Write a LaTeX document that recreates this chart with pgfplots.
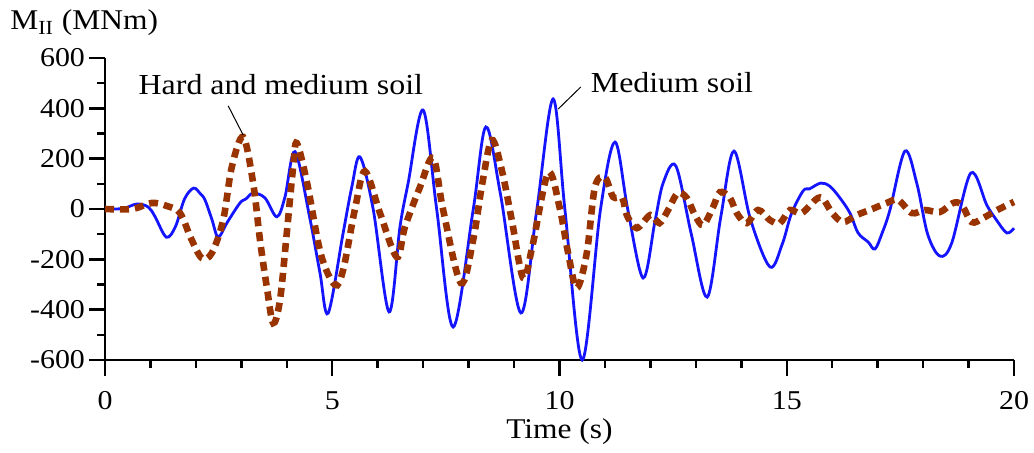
\documentclass[border=0pt]{standalone}
\usepackage{fontspec}
\setmainfont{Liberation Serif}[FakeStretch=1.1]
\usepackage{pgfplots}
\pgfplotsset{compat=1.18}
\definecolor{mblue}{RGB}{20,20,255}
\definecolor{hbrown}{RGB}{153,51,0}

\pgfplotstableread{
t v
0 0
0.4 2
0.7 20
0.95 8
1.1 -30
1.35 -112
1.55 -70
1.75 40
1.95 83
2.1 60
2.2 36
2.35 -40
2.49 -111
2.7 -50
2.97 24
3.1 40
3.26 63
3.52 44
3.78 -31
3.96 48
4.18 228
4.5 -30
4.73 -254
4.91 -414
5.24 -95
5.43 87
5.61 207
5.9 0
6.25 -409
6.49 -71
6.67 103
7.0 393
7.3 -4
7.66 -469
8.1 -4
8.38 326
8.7 60
9.15 -413
9.5 -4
9.86 437
10.12 -4
10.5 -600
10.9 -4
11.22 266
11.5 0
11.84 -274
12.1 -50
12.28 103
12.56 171
12.9 -100
13.25 -350
13.55 -30
13.84 230
14.2 -40
14.63 -230
14.9 -140
15.1 -20
15.36 72
15.5 80
15.75 103
15.95 90
16.17 44
16.39 -16
16.57 -95
16.79 -131
16.94 -159
17.1 -95
17.27 -4
17.6 230
17.86 103
18.1 -100
18.37 -187
18.63 -135
19.05 143
19.4 16
19.6 -40
19.84 -95
20 -76
}\medium

\pgfplotstableread{
t v
0 0
0.6 0
1.03 24
1.36 12
1.65 -16
1.9 -120
2.13 -195
2.35 -175
2.6 -44
2.79 167
3.04 286
3.26 103
3.41 -123
3.56 -310
3.7 -453
3.85 -362
4.0 -95
4.14 167
4.22 262
4.45 100
4.75 -180
5.06 -302
5.24 -242
5.5 0
5.72 150
6.05 -16
6.42 -191
6.6 -71
6.93 87
7.22 203
7.44 -4
7.83 -294
8.1 -123
8.3 100
8.51 274
8.73 155
8.95 -44
9.2 -274
9.4 -151
9.75 143
10.0 8
10.19 -175
10.38 -314
10.6 -175
10.78 87
11.0 125
11.18 48
11.38 44
11.48 -24
11.7 -76
12.0 -24
12.2 -56
12.39 -4
12.6 63
12.8 44
12.98 -24
13.16 -64
13.38 8
13.53 67
13.75 44
13.9 -16
14.12 -56
14.37 -4
14.63 -44
14.85 -56
15.07 -4
15.33 -16
15.73 46
16.0 -16
16.24 -52
16.54 -24
16.88 0
17.2 24
17.45 36
17.75 -16
18.04 -4
18.37 -12
18.66 24
18.85 16
19.07 -52
19.32 -36
19.63 -4
20 28
}\hard

\begin{document}
\begin{tikzpicture}
\begin{axis}[
 scale only axis, width=454.5pt, height=151pt,
 xmin=0, xmax=20, ymin=-600, ymax=600,
 axis lines=left, axis line style={-, line width=1.2pt},
 xtick={0,5,10,15,20}, xticklabels={0,5,10,15,20},
 minor x tick num=4,
 ytick={-600,-400,-200,0,200,400,600},
 yticklabels={-600,-400,-200,0,200,400,600},
 minor y tick num=1,
 tick align=outside,
 major tick length=8pt, minor tick length=4pt,
 every tick/.style={black, line width=1.2pt},
 tick label style={font=\fontsize{13.6}{16}\selectfont},
 xticklabel style={yshift=-5.5pt, inner sep=2pt},
 yticklabel style={xshift=1.5pt},
 xlabel={Time (s)},
 xlabel style={at={(axis description cs:0.5,0)}, anchor=base, yshift=-39pt, inner sep=1pt, font=\fontsize{14.3}{17}\selectfont},
 clip=false,
]
\coordinate (ll) at (rel axis cs:0,0);
\coordinate (ur) at (rel axis cs:1,1);
\addplot[mblue, line width=1.4pt, smooth, tension=0.55] table[x=t,y=v] {\medium};
\addplot[hbrown, line width=3.3pt, dash pattern=on 4.5pt off 3pt, smooth, tension=0.55] table[x=t,y=v] {\hard};
\draw[line width=0.5pt] (axis cs:2.71,410) -- (axis cs:3.04,294);
\draw[line width=0.5pt] (axis cs:10.47,485) -- (axis cs:9.97,397);
\node[anchor=base, font=\fontsize{14.5}{17}\selectfont, inner sep=0pt] at (axis cs:3.87,453) {Hard and medium soil};
\node[anchor=base, font=\fontsize{14.5}{17}\selectfont, inner sep=0pt] at (axis cs:12.475,461) {Medium soil};
\node[anchor=base west, font=\fontsize{14.3}{17}\selectfont, inner sep=0pt, xshift=-47.5pt, yshift=14pt] at (rel axis cs:0,1) {M\textsubscript{II} (MNm)};
\end{axis}
\path ([shift={(-52.5pt,-46pt)}]ll) rectangle ([shift={(10pt,29pt)}]ur);
\end{tikzpicture}
\end{document}
